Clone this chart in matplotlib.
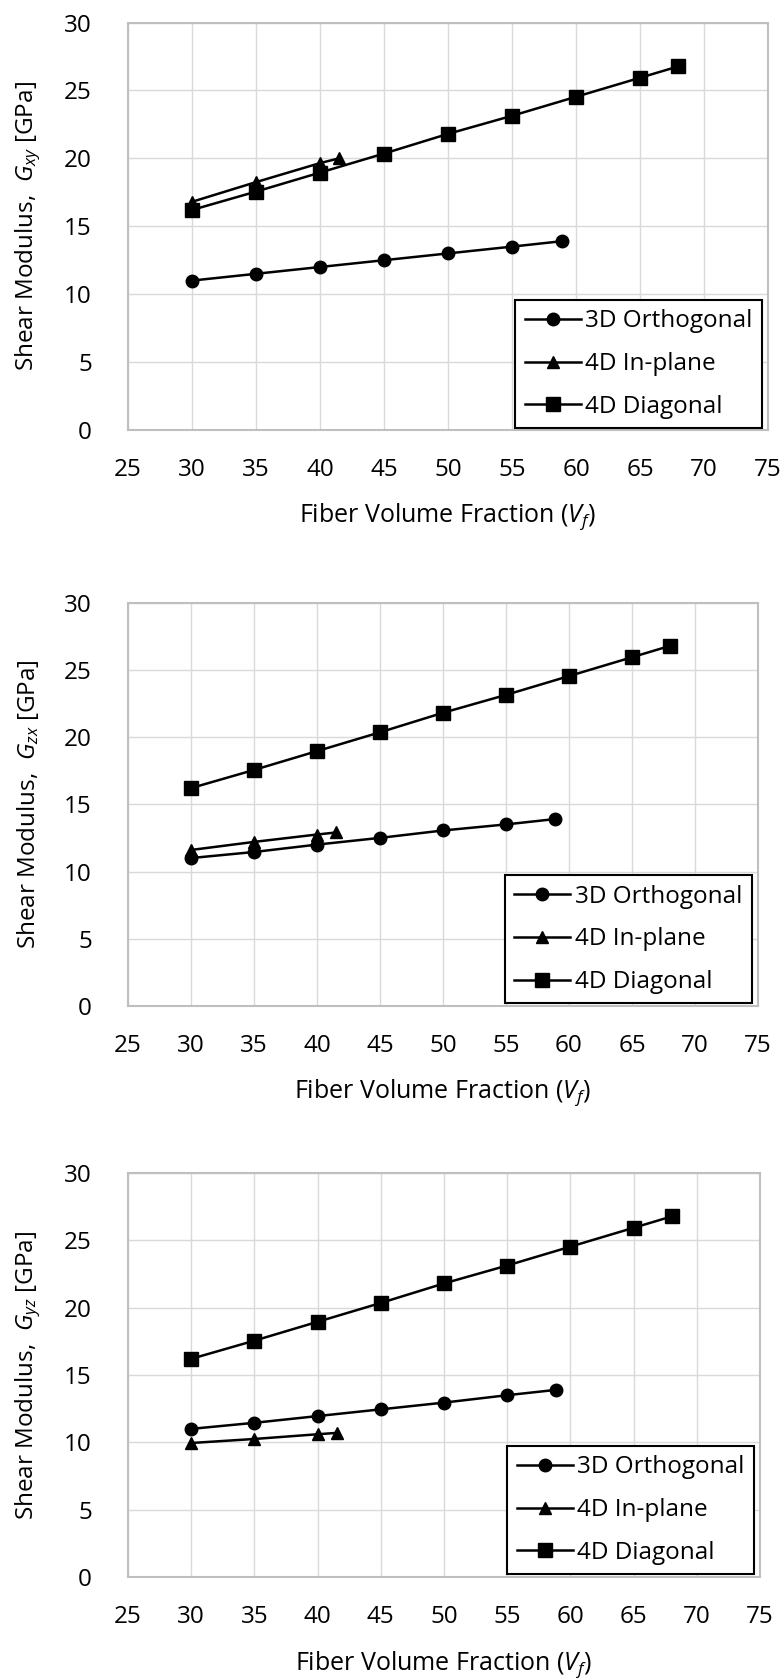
import matplotlib
matplotlib.use("Agg")
import matplotlib.pyplot as plt

plt.rcParams['font.family'] = ['Open Sans', 'DejaVu Sans']
plt.rcParams['mathtext.fontset'] = 'custom'
plt.rcParams['mathtext.rm'] = 'Open Sans'
plt.rcParams['mathtext.it'] = 'Open Sans:italic'

# ---------------- data ----------------
series_labels = ["3D Orthogonal", "4D In-plane", "4D Diagonal"]
x_ticks = [25, 30, 35, 40, 45, 50, 55, 60, 65, 70, 75]
y_ticks = [0, 5, 10, 15, 20, 25, 30]

vf_3d = [30, 35, 40, 45, 50, 55, 58.9]
vf_inplane = [30, 35, 40, 41.5]
vf_diag = [30, 35, 40, 45, 50, 55, 60, 65, 68]

gxy_3d = [11.0, 11.5, 12.0, 12.5, 13.0, 13.5, 13.9]
gxy_inplane = [16.8, 18.25, 19.65, 20.0]
gxy_diag = [16.2, 17.55, 18.95, 20.35, 21.8, 23.13, 24.53, 25.93, 26.77]

gzx_3d = [11.0, 11.45, 12.0, 12.5, 13.05, 13.5, 13.9]
gzx_inplane = [11.6, 12.2, 12.75, 12.9]
gzx_diag = [16.2, 17.55, 18.95, 20.35, 21.8, 23.13, 24.53, 25.93, 26.77]

gyz_3d = [11.0, 11.45, 11.95, 12.45, 12.95, 13.5, 13.9]
gyz_inplane = [9.95, 10.25, 10.6, 10.7]
gyz_diag = [16.2, 17.55, 18.95, 20.35, 21.8, 23.13, 24.53, 25.93, 26.77]

ylabels = [r"Shear Modulus,  $G_{xy}$ [GPa]",
           r"Shear Modulus,  $G_{zx}$ [GPa]",
           r"Shear Modulus,  $G_{yz}$ [GPa]"]
xlabel = r"Fiber Volume Fraction ($V_{f}$)"

panels = [
    (gxy_3d, gxy_inplane, gxy_diag),
    (gzx_3d, gzx_inplane, gzx_diag),
    (gyz_3d, gyz_inplane, gyz_diag),
]

# ---------------- layout (pixels) ----------------
W, H = 784, 1679
# left, right, top, bottom in pixel coords
boxes = [(128, 768, 22.5, 430), (128, 758, 602.5, 1006), (128, 760, 1173, 1577)]
legend_corner = [(762, 428), (751.7, 1003.3), (754, 1574)]

fig = plt.figure(figsize=(W / 100, H / 100), dpi=100)
FS = 17.5
FS_LABEL = 18

for i, ((l, r, t, b), (s3d, sin, sdg)) in enumerate(zip(boxes, panels)):
    ax = fig.add_axes([l / W, 1 - b / H, (r - l) / W, (b - t) / H])
    ax.set_xlim(25, 75)
    ax.set_ylim(0, 30)
    ax.set_xticks(x_ticks)
    ax.set_yticks(y_ticks)
    ax.grid(True, color='#d9d9d9', linewidth=1.0)
    ax.set_axisbelow(True)
    for sp in ax.spines.values():
        sp.set_color('#bfbfbf')
        sp.set_linewidth(1.5)
    ax.tick_params(axis='both', length=0, labelsize=FS, colors='black')
    ax.tick_params(axis='x', pad=20)
    ax.tick_params(axis='y', pad=26)

    kw = dict(color='black', linewidth=1.8)
    ax.plot(vf_3d, s3d, marker='o', markersize=9, label=series_labels[0], **kw)
    ax.plot(vf_inplane, sin, marker='^', markersize=9, label=series_labels[1], **kw)
    ax.plot(vf_diag, sdg, marker='s', markersize=9.5, label=series_labels[2], **kw)

    lx, ly = legend_corner[i]
    leg = ax.legend(loc='lower right',
                    bbox_to_anchor=((lx - l) / (r - l), (b - ly) / (b - t)),
                    borderaxespad=0, fontsize=FS, frameon=True, fancybox=False,
                    framealpha=1, edgecolor='black', handlelength=2.3,
                    handletextpad=0.2, labelspacing=0.77, borderpad=0.38)
    leg.get_frame().set_linewidth(1.5)

    # axis titles
    fig.text(28.5 / W, 1 - ((t + b) / 2) / H, ylabels[i], rotation=90,
             ha='center', va='center', fontsize=FS)
    fig.text(((l + r) / 2) / W, 1 - (b + 87) / H, xlabel,
             ha='center', va='center', fontsize=FS_LABEL)

fig.savefig("out.png", dpi=100, facecolor='white')
